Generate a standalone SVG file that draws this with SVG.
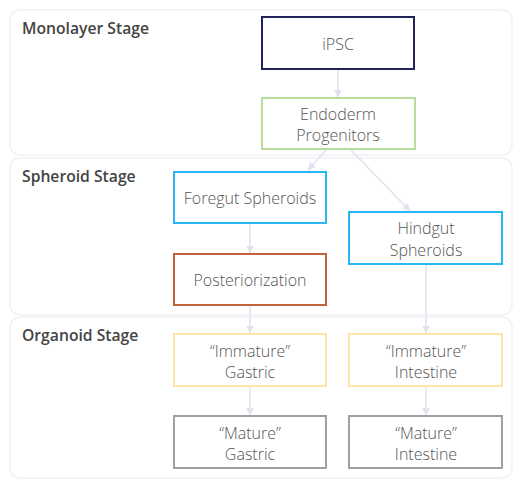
<svg xmlns="http://www.w3.org/2000/svg" width="524" height="488" viewBox="0 0 524 488">
<defs>
<style>
.grp{fill:#ffffff;stroke:#eef1f5;stroke-width:1.5}
.title{font-family:"Open Sans","Liberation Sans",sans-serif;font-weight:600;font-size:15.7px;fill:#444444}
.node rect{fill:#ffffff;stroke-width:2}
.node text{font-family:"Open Sans","Liberation Sans",sans-serif;font-weight:300;font-size:16px;fill:#555555;text-anchor:middle}
.edge{stroke:#dde3ef;stroke-width:1.5;fill:none;marker-end:url(#arr)}
</style>
<marker id="arr" viewBox="0 0 10 10" refX="9" refY="5" markerWidth="8" markerHeight="8" orient="auto" markerUnits="userSpaceOnUse">
<path d="M0,0 L10,5 L0,10 z" fill="#dde3ef"/>
</marker>
</defs>
<rect width="524" height="488" fill="#ffffff"/>
<g id="stage-monolayer">
<rect class="grp" x="10" y="10" width="502" height="145" rx="10"/>
<text class="title" x="22" y="34">Monolayer Stage</text>
</g>
<g id="stage-spheroid">
<rect class="grp" x="10" y="158" width="502" height="157" rx="10"/>
<text class="title" x="22" y="182">Spheroid Stage</text>
</g>
<g id="stage-organoid">
<rect class="grp" x="10" y="317" width="502" height="161" rx="10"/>
<text class="title" x="22" y="341">Organoid Stage</text>
</g>
<g id="connectors">
<line class="edge" x1="338" y1="69" x2="338" y2="97"/>
<line class="edge" x1="327" y1="149" x2="308" y2="170"/>
<line class="edge" x1="350" y1="149" x2="410" y2="211"/>
<line class="edge" x1="250" y1="223" x2="250" y2="253"/>
<line class="edge" x1="250" y1="305" x2="250" y2="333"/>
<line class="edge" x1="426" y1="264" x2="426" y2="333"/>
<line class="edge" x1="250" y1="386" x2="250" y2="415"/>
<line class="edge" x1="426" y1="386" x2="426" y2="415"/>
</g>
<g id="ipsc" class="node">
<rect x="262" y="17" width="152" height="52" stroke="#23235b"/>
<text x="338" y="50">iPSC</text>
</g>
<g id="endoderm" class="node">
<rect x="262" y="98" width="153" height="51" stroke="#b7dc9c"/>
<text x="338" y="120">Endoderm</text>
<text x="338" y="141">Progenitors</text>
</g>
<g id="foregut" class="node">
<rect x="174" y="172" width="152" height="51" stroke="#29b6f6"/>
<text x="250" y="204">Foregut Spheroids</text>
</g>
<g id="posteriorization" class="node">
<rect x="174" y="254" width="152" height="51" stroke="#c0653a"/>
<text x="250" y="286">Posteriorization</text>
</g>
<g id="hindgut" class="node">
<rect x="349" y="212" width="153" height="52" stroke="#29b6f6"/>
<text x="426" y="234">Hindgut</text>
<text x="426" y="256">Spheroids</text>
</g>
<g id="immature-gastric" class="node">
<rect x="174" y="334" width="152" height="52" stroke="#fde6a6"/>
<text x="250" y="357">“Immature”</text>
<text x="250" y="378">Gastric</text>
</g>
<g id="immature-intestine" class="node">
<rect x="349" y="334" width="153" height="52" stroke="#fde6a6"/>
<text x="426" y="357">“Immature”</text>
<text x="426" y="378">Intestine</text>
</g>
<g id="mature-gastric" class="node">
<rect x="174" y="416" width="152" height="52" stroke="#a0a0a0"/>
<text x="250" y="439">“Mature”</text>
<text x="250" y="460">Gastric</text>
</g>
<g id="mature-intestine" class="node">
<rect x="349" y="416" width="153" height="52" stroke="#a0a0a0"/>
<text x="426" y="439">“Mature”</text>
<text x="426" y="460">Intestine</text>
</g>
</svg>
